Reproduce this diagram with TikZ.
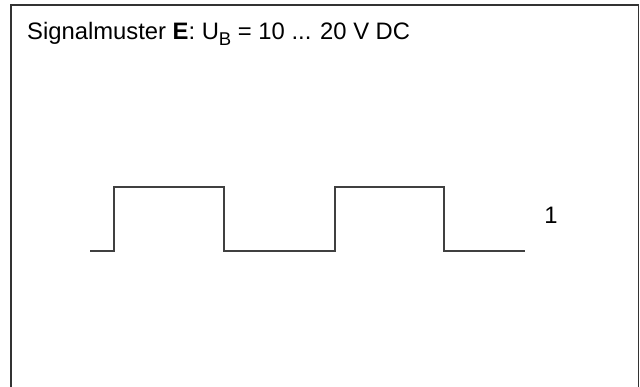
\documentclass[tikz,border=0pt]{standalone}
\usepackage{fontspec}
\setmainfont{Liberation Sans}
\begin{document}
\begin{tikzpicture}[x=1pt,y=1pt,
  frame/.style={line width=1.6pt, draw=black!80},
  signal/.style={line width=1.6pt, draw=black!75},
  lbl/.style={inner sep=0pt, font=\fontsize{23.8}{28}\selectfont}]
\useasboundingbox (0,0) rectangle (640,387);
\draw[frame] (11,0) -- (11,382) -- (638.5,382) -- (638.5,0);
\node[lbl, anchor=base west] (title) at (27,347)
  {Signalmuster \textbf{E}: U\raisebox{-6pt}{\fontsize{18.5}{18}\selectfont B} = 10 ... 20 V DC};
\draw[signal] (90,136) -- (114,136) -- (114,200) -- (224,200) -- (224,136)
  -- (335,136) -- (335,200) -- (444,200) -- (444,136) -- (525,136);
\node[lbl, anchor=base] (one) at (551,163) {1};
\end{tikzpicture}
\end{document}
